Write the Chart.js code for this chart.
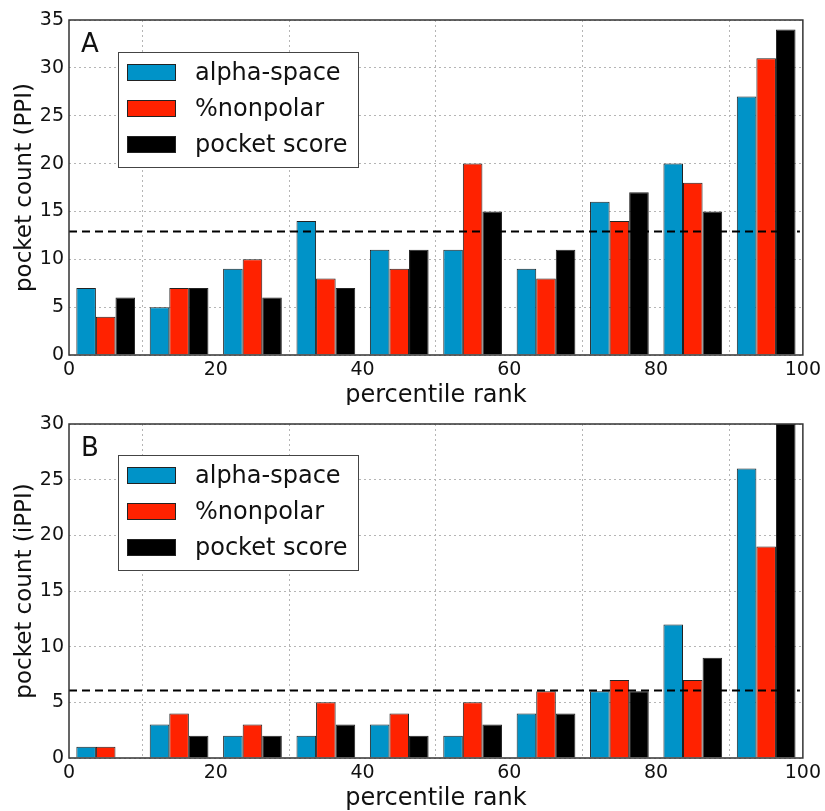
<!DOCTYPE html>
<html>
<head>
<meta charset="utf-8">
<script src="https://cdn.jsdelivr.net/npm/chart.js@4.4.0/dist/chart.umd.min.js"></script>
<style>
  body { margin: 0; background: #fff; }
  .panel { position: absolute; left: 0; width: 825px; }
</style>
</head>
<body>
<div class="panel" style="top:0;height:405px"><canvas id="chartA"></canvas></div>
<div class="panel" style="top:405px;height:406px"><canvas id="chartB"></canvas></div>
<script>
// ===== data
const binCenters = [5, 15, 25, 35, 45, 55, 65, 75, 85, 95];
const seriesNames = ["alpha-space", "%nonpolar", "pocket score"];
const seriesColors = ["#0093c8", "#ff2200", "#000000"];

// panel A (PPI)
const ppiAlpha    = [7, 5, 9, 14, 11, 11, 9, 16, 20, 27];
const ppiNonpolar = [4, 7, 10, 8, 9, 20, 8, 14, 18, 31];
const ppiScore    = [6, 7, 6, 7, 11, 15, 11, 17, 15, 34];
const ppiCutoff = 12.9;

// panel B (iPPI)
const ippiAlpha    = [1, 3, 2, 2, 3, 2, 4, 6, 12, 26];
const ippiNonpolar = [1, 4, 3, 5, 4, 5, 6, 7, 7, 19];
const ippiScore    = [0, 2, 2, 3, 2, 3, 4, 6, 9, 30];
const ippiCutoff = 6.06;

const xRange = [0, 100];
const cutoffSpan = [0, 99.6];

// ===== frame, panel letter and boxed legend inside the plot
const panelDecor = {
  id: "panelDecor",
  afterDatasetsDraw(chart, args, opts) {
    const { ctx, chartArea: a } = chart;
    ctx.save();
    ctx.strokeStyle = "#333";
    ctx.lineWidth = 1.5;
    ctx.strokeRect(a.left, a.top, a.right - a.left, a.bottom - a.top);

    ctx.fillStyle = "#111";
    ctx.font = '26px "DejaVu Sans"';
    ctx.textAlign = "left";
    ctx.textBaseline = "alphabetic";
    ctx.fillText(opts.letter, a.left + 12, a.top + 32);

    const bx = Math.round(a.left + 49), by = Math.round(a.top + opts.legendTop);
    const bw = 240, bh = 115;
    ctx.fillStyle = "#fff";
    ctx.fillRect(bx, by, bw, bh);
    ctx.lineWidth = 1;
    ctx.strokeStyle = "#444";
    ctx.strokeRect(bx + 0.5, by + 0.5, bw, bh);

    const bars = chart.data.datasets.filter(d => d.type !== "line");
    bars.forEach((d, i) => {
      const cy = by + 20.5 + i * 36;
      ctx.fillStyle = d.backgroundColor;
      ctx.fillRect(bx + 9, cy - 8.5, 49, 17);
      ctx.strokeStyle = "#222";
      ctx.strokeRect(bx + 9.5, cy - 8, 48, 16);
      ctx.fillStyle = "#111";
      ctx.font = '24px "DejaVu Sans"';
      ctx.textBaseline = "middle";
      ctx.fillText(d.label, bx + 77, cy + 1);
    });
    ctx.restore();
  }
};

function makePanel(id, series, cutoff, yMax, yTitle, letter, padTop, xHeight, titlePad, legendTop) {
  const datasets = series.map((vals, i) => ({
    label: seriesNames[i],
    data: vals.map((v, j) => ({ x: binCenters[j], y: v })),
    backgroundColor: seriesColors[i],
    borderColor: "#222",
    borderWidth: 1,
    inflateAmount: 0,
    barPercentage: 1.0,
    categoryPercentage: 0.8
  }));
  datasets.push({
    type: "line",
    label: "cutoff",
    data: [{ x: cutoffSpan[0], y: cutoff }, { x: cutoffSpan[1], y: cutoff }],
    borderColor: "#000",
    borderWidth: 2,
    borderDash: [8, 5],
    pointRadius: 0,
    fill: false,
    order: -1
  });

  return new Chart(document.getElementById(id), {
    type: "bar",
    data: { datasets },
    options: {
      responsive: true,
      maintainAspectRatio: false,
      animation: false,
      layout: { padding: { top: padTop, right: 19, left: 0, bottom: 0 } },
      plugins: {
        legend: { display: false },
        tooltip: { enabled: false },
        panelDecor: { letter, legendTop }
      },
      scales: {
        x: {
          type: "linear",
          min: xRange[0],
          max: xRange[1],
          offset: false,
          afterFit: s => { s.height = xHeight; },
          ticks: { stepSize: 20, padding: 4, color: "#111", font: { family: "DejaVu Sans", size: 19 } },
          grid: { color: "#b5b5b5", lineWidth: 1, drawTicks: false },
          border: { display: false, dash: [2, 3] },
          title: {
            display: true,
            text: "percentile rank",
            color: "#111",
            padding: { top: 0, bottom: titlePad },
            font: { family: "DejaVu Sans", size: 24, lineHeight: 0.8 }
          }
        },
        y: {
          min: 0,
          max: yMax,
          afterFit: s => { s.width = 69; },
          ticks: { stepSize: 5, padding: 5, color: "#111", font: { family: "DejaVu Sans", size: 19 } },
          grid: { color: "#b5b5b5", lineWidth: 1, drawTicks: false },
          border: { display: false, dash: [2, 3] },
          title: {
            display: true,
            text: yTitle,
            color: "#111",
            padding: { top: 11, bottom: 0 },
            font: { family: "DejaVu Sans", size: 23, lineHeight: 1.2 }
          }
        }
      }
    },
    plugins: [panelDecor]
  });
}

makePanel("chartA", [ppiAlpha, ppiNonpolar, ppiScore], ppiCutoff, 35,
  "pocket count (PPI)", "A", 20, 50, 0, 32);
makePanel("chartB", [ippiAlpha, ippiNonpolar, ippiScore], ippiCutoff, 30,
  "pocket count (iPPI)", "B", 19, 53, 3, 31);
</script>
</body>
</html>
